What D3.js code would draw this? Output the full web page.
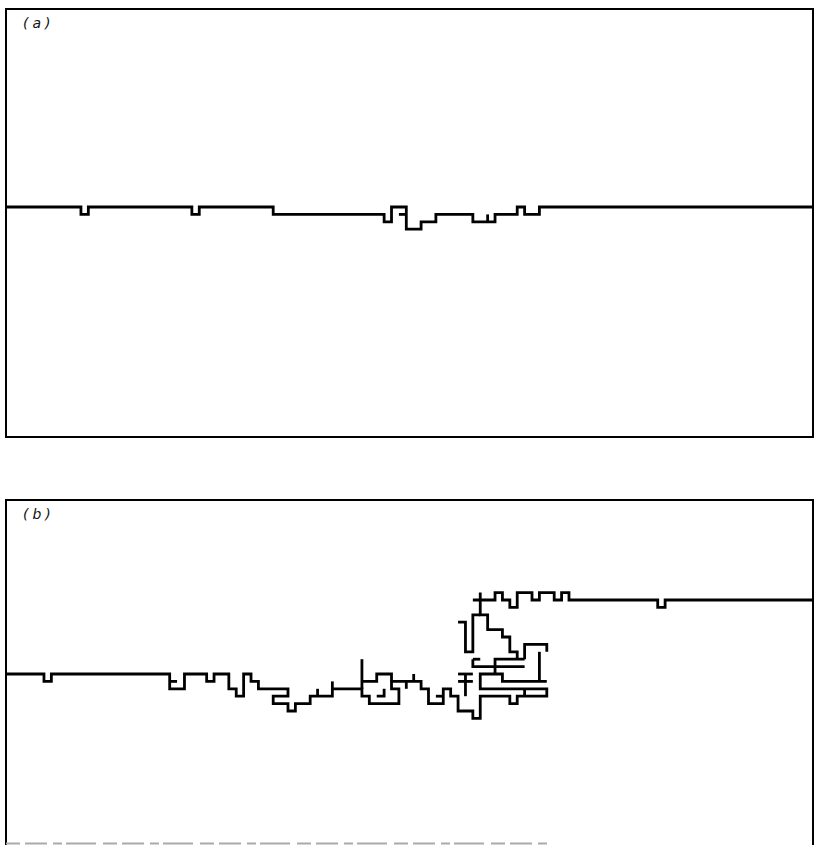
<!DOCTYPE html>
<html>
<head>
<meta charset="utf-8">
<script src="https://cdn.jsdelivr.net/npm/d3@7"></script>
<style>
  body { margin: 0; background: #fff; }
  svg { display: block; }
</style>
</head>
<body>
<div id="display"></div>
<script>
// lattice paths, in lattice units (column, row); row 0 = left baseline
var labels = ["(a)", "(b)"];

var pathA = [[0,0],[10,0],[10,-1],[11,-1],[11,0],[25,0],[25,-1],[26,-1],[26,0],[36,0],[36,-1],
  [51,-1],[51,-2],[52,-2],[52,0],[54,0],[54,-3],[56,-3],[56,-2],[58,-2],[58,-1],[63,-1],[63,-2],
  [66,-2],[66,-1],[69,-1],[69,0],[70,0],[70,-1],[72,-1],[72,0],[109,0]];
var spikesA = [
  [[53,-1],[54,-1]],
  [[65,-2],[65,-1]]
];

var pathB = [[0,0],[5,0],[5,-1],[6,-1],[6,0],[22,0],[22,-2],[24,-2],[24,0],[27,0],[27,-1],[28,-1],
  [28,0],[30,0],[30,-2],[31,-2],[31,-3],[32,-3],[32,0],[33,0],[33,-1],[34,-1],[34,-2],[38,-2],
  [38,-3],[36,-3],[36,-4],[38,-4],[38,-5],[39,-5],[39,-4],[41,-4],[41,-3],[44,-3],[44,-2],[48,-2],
  [48,-3],[49,-3],[49,-4],[53,-4],[53,-2],[52,-2],[52,-1],[56,-1],[56,-2],[57,-2],[57,-4],[59,-4],
  [59,-2],[60,-2],[60,-3],[61,-3],[61,-5],[63,-5],[63,-6],[64,-6],[64,-3],[68,-3],[68,-4],[69,-4],
  [69,-3],[73,-3],[73,-2],[64,-2],[64,0],[67,0],[67,-1],[73,-1]];
var topB = [[63,10],[66,10],[66,11],[67,11],[67,10],[68,10],[68,9],[69,9],[69,11],[71,11],[71,10],
  [72,10],[72,11],[74,11],[74,10],[75,10],[75,11],[76,11],[76,10],[88,10],[88,9],[89,9],[89,10],[109,10]];
var stairB = [[64,11],[64,8],[65,8],[65,6],[67,6],[67,5],[68,5],[68,3],[69,3],[69,2]];
var branchesB = [
  [[22,-1],[23,-1]],
  [[42,-3],[42,-2]],
  [[44,-2],[44,-1]],
  [[48,2],[48,-2]],
  [[48,-1],[50,-1],[50,0],[52,0],[52,-1]],
  [[50,-3],[51,-3],[51,-2]],
  [[54,-1],[54,-2]],
  [[55,-1],[55,0]],
  [[58,-3],[59,-3]],
  [[62,0],[62,-3]],
  [[61,0],[63,0]],
  [[61,-1],[63,-1]],
  [[61,7],[62,7],[62,3],[63,3],[63,8],[64,8]],
  [[63,2],[64,2]],
  [[63,2],[63,1],[70,1]],
  [[66,0],[66,2],[70,2]],
  [[70,2],[70,4],[73,4],[73,3]],
  [[72,3],[72,-1]],
  [[70,-3],[70,-2]]
];

var W = 815, H = 845;
var svg = d3.select("#display").append("svg").attr("width", W).attr("height", H);

var x = d3.scaleLinear().domain([0, 109]).range([7, 813]);
var yA = d3.scaleLinear().domain([-10, 10]).range([281, 133]);
var yB = d3.scaleLinear().domain([-10, 10]).range([748, 600]);

function drawLines(ys, lines) {
  var line = d3.line().x(function(d) { return x(d[0]); }).y(function(d) { return ys(d[1]); });
  svg.append("g").selectAll("path").data(lines).enter().append("path")
    .attr("d", line)
    .attr("fill", "none").attr("stroke", "#000")
    .attr("stroke-width", 2.8).attr("stroke-linejoin", "miter").attr("stroke-linecap", "butt");
}

// frames
svg.append("rect").attr("x", 6).attr("y", 9).attr("width", 807).attr("height", 428)
  .attr("fill", "none").attr("stroke", "#000").attr("stroke-width", 2);
svg.append("path").attr("d", "M6,846 V500 H813 V846")
  .attr("fill", "none").attr("stroke", "#000").attr("stroke-width", 2);
svg.append("line").attr("x1", 6).attr("x2", 548).attr("y1", 843.5).attr("y2", 843.5)
  .attr("stroke", "#aaa").attr("stroke-width", 2).attr("stroke-dasharray", "14,5,22,6,9,4,30,7");

svg.selectAll("text.lab").data(labels).enter().append("text")
  .attr("class", "lab")
  .attr("x", 23).attr("y", function(d, i) { return i ? 519 : 28; })
  .attr("font-family", "DejaVu Sans, sans-serif").attr("font-size", "14px")
  .attr("font-style", "italic").attr("letter-spacing", "4px").attr("fill", "#111")
  .text(function(d) { return d; });

drawLines(yA, [pathA].concat(spikesA));
drawLines(yB, [pathB, topB, stairB].concat(branchesB));
</script>
</body>
</html>
